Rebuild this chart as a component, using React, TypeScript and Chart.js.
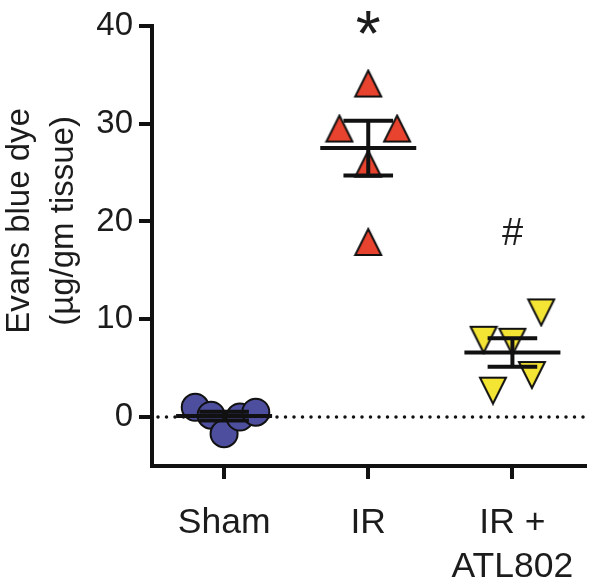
import React, { useEffect, useRef } from 'react';
import { Chart, registerables } from 'chart.js';

Chart.register(...registerables);

// ---- data ----
const categories: (string | string[])[] = ['Sham', 'IR', ['IR +', 'ATL802']];
const yTickValues = [0, 10, 20, 30, 40];
const yTitleLines = ['Evans blue dye', '(µg/gm tissue)'];

const shamValues = [1.0, 0.2, -1.7, 0.0, 0.5];
const shamJitter = [-0.2, -0.09, 0, 0.11, 0.22];
const irValues = [34.1, 29.5, 29.5, 25.9, 17.9];
const irJitter = [0, -0.2, 0.2, 0, 0];
const atlValues = [10.7, 7.9, 7.7, 4.3, 2.7];
const atlJitter = [0.2, -0.2, 0, 0.135, -0.135];

const groupMeans = [0.1, 27.5, 6.6];
const groupSems = [0.45, 2.8, 1.45];

const sigGroups = [1, 2];
const sigLabels = ['*', '#'];
const sigValues = [40.3, 19.0];

const FONT = "'Liberation Sans', Arial, Helvetica, sans-serif";
const TEXT = '#1c1c1c';

function makeTriangle(fill: string, down: boolean): HTMLCanvasElement {
  const c = document.createElement('canvas');
  c.width = 30;
  c.height = 30;
  const g = c.getContext('2d')!;
  g.beginPath();
  if (down) {
    g.moveTo(2, 2);
    g.lineTo(28, 2);
    g.lineTo(15, 28);
  } else {
    g.moveTo(15, 2);
    g.lineTo(28, 28);
    g.lineTo(2, 28);
  }
  g.closePath();
  g.fillStyle = fill;
  g.fill();
  g.lineWidth = 2;
  g.lineJoin = 'miter';
  g.strokeStyle = '#111';
  g.stroke();
  return c;
}

const overlayPlugin = {
  id: 'overlay',
  beforeDatasetsDraw(chart: any) {
    const { ctx, chartArea, scales } = chart;
    const y0 = scales.y.getPixelForValue(0);
    ctx.save();
    ctx.strokeStyle = '#111';
    ctx.lineWidth = 3.5;
    ctx.lineCap = 'round';
    ctx.setLineDash([0, 8.5]);
    ctx.beginPath();
    ctx.moveTo(chartArea.left + 6, y0);
    ctx.lineTo(chartArea.right, y0);
    ctx.stroke();
    ctx.restore();
  },
  afterDatasetsDraw(chart: any) {
    const { ctx, scales } = chart;
    const xs = scales.x;
    const ys = scales.y;
    ctx.save();
    ctx.strokeStyle = '#111';
    ctx.lineWidth = 4;
    ctx.lineCap = 'butt';
    groupMeans.forEach((m, i) => {
      const s = groupSems[i];
      const yM = ys.getPixelForValue(m);
      const yU = ys.getPixelForValue(m + s);
      const yL = ys.getPixelForValue(m - s);
      const xc = xs.getPixelForValue(i);
      const xl = xs.getPixelForValue(i - 0.333);
      const xr = xs.getPixelForValue(i + 0.333);
      const cl = xs.getPixelForValue(i - 0.172);
      const cr = xs.getPixelForValue(i + 0.172);
      ctx.beginPath();
      ctx.moveTo(xl, yM);
      ctx.lineTo(xr, yM);
      ctx.moveTo(cl, yU);
      ctx.lineTo(cr, yU);
      ctx.moveTo(cl, yL);
      ctx.lineTo(cr, yL);
      ctx.moveTo(xc, yU - 2);
      ctx.lineTo(xc, yL + 2);
      ctx.stroke();
    });
    ctx.restore();
  },
  afterDraw(chart: any) {
    const { ctx, chartArea, scales } = chart;
    ctx.save();
    // y-axis title
    ctx.fillStyle = TEXT;
    ctx.font = `33px ${FONT}`;
    ctx.textAlign = 'center';
    ctx.textBaseline = 'middle';
    ctx.translate(20, (chartArea.top + chartArea.bottom) / 2 - 25);
    ctx.rotate(-Math.PI / 2);
    yTitleLines.forEach((line, i) => ctx.fillText(line, 0, i * 44));
    ctx.restore();

    // significance marks
    ctx.save();
    ctx.fillStyle = TEXT;
    ctx.textAlign = 'center';
    ctx.textBaseline = 'alphabetic';
    sigGroups.forEach((g, i) => {
      const size = sigLabels[i] === '*' ? 64 : 38;
      ctx.font = `${size}px ${FONT}`;
      const m = ctx.measureText(sigLabels[i]);
      const cx = scales.x.getPixelForValue(g);
      const cy = scales.y.getPixelForValue(sigValues[i]);
      const asc = m.actualBoundingBoxAscent;
      const desc = m.actualBoundingBoxDescent;
      const base = cy + (asc - desc) / 2;
      const left = m.actualBoundingBoxLeft;
      const right = m.actualBoundingBoxRight;
      ctx.fillText(sigLabels[i], cx + (left - right) / 2, base);
    });
    ctx.restore();
  },
};

export default function App() {
  const ref = useRef<HTMLCanvasElement | null>(null);

  useEffect(() => {
    document.body.style.margin = '0';
    const canvas = ref.current;
    if (!canvas) return;
    const redTri = makeTriangle('#e8432e', false);
    const yellowTri = makeTriangle('#f4e434', true);

    const toPoints = (vals: number[], jit: number[], g: number) =>
      vals.map((v, i) => ({ x: g + jit[i], y: v }));

    const chart = new Chart(canvas, {
      type: 'scatter',
      data: {
        datasets: [
          {
            label: 'Sham',
            data: toPoints(shamValues, shamJitter, 0),
            pointStyle: 'circle',
            pointRadius: 13.5,
            pointBackgroundColor: '#4e4e9e',
            pointBorderColor: '#111',
            pointBorderWidth: 2,
          },
          {
            label: 'IR',
            data: toPoints(irValues, irJitter, 1),
            pointStyle: redTri as any,
            pointRadius: 14,
          },
          {
            label: 'IR + ATL802',
            data: toPoints(atlValues, atlJitter, 2),
            pointStyle: yellowTri as any,
            pointRadius: 14,
          },
        ],
      },
      options: {
        responsive: false,
        animation: false,
        events: [],
        layout: { padding: { top: 24, right: 5, left: 0, bottom: 0 } },
        plugins: {
          legend: { display: false },
          tooltip: { enabled: false },
        },
        scales: {
          x: {
            type: 'linear',
            min: -0.5,
            max: 2.5,
            afterBuildTicks: (s: any) => {
              s.ticks = categories.map((_, i) => ({ value: i }));
            },
            afterFit: (s: any) => {
              s.height = 119;
            },
            grid: {
              drawOnChartArea: false,
              drawTicks: true,
              tickLength: 13,
              lineWidth: 4,
              color: '#111',
            },
            border: { display: true, width: 4, color: '#111' },
            ticks: {
              autoSkip: false,
              maxRotation: 0,
              minRotation: 0,
              padding: 22,
              color: TEXT,
              font: { family: FONT, size: 35.5, lineHeight: 1.24 },
              callback: (v: any) => categories[Math.round(Number(v))] as any,
            },
          },
          y: {
            type: 'linear',
            min: -5,
            max: 40,
            afterBuildTicks: (s: any) => {
              s.ticks = yTickValues.map((v) => ({ value: v }));
            },
            afterFit: (s: any) => {
              s.width = 152;
            },
            grid: {
              drawOnChartArea: false,
              drawTicks: true,
              tickLength: 13,
              lineWidth: 4,
              color: '#111',
            },
            border: { display: true, width: 4, color: '#111' },
            ticks: {
              padding: 6,
              color: TEXT,
              font: { family: FONT, size: 33, lineHeight: 1.2 },
            },
          },
        },
      },
      plugins: [overlayPlugin as any],
    });

    return () => chart.destroy();
  }, []);

  return (
    <canvas
      ref={ref}
      width={600}
      height={585}
      style={{ display: 'block', width: 600, height: 585 }}
    />
  );
}
